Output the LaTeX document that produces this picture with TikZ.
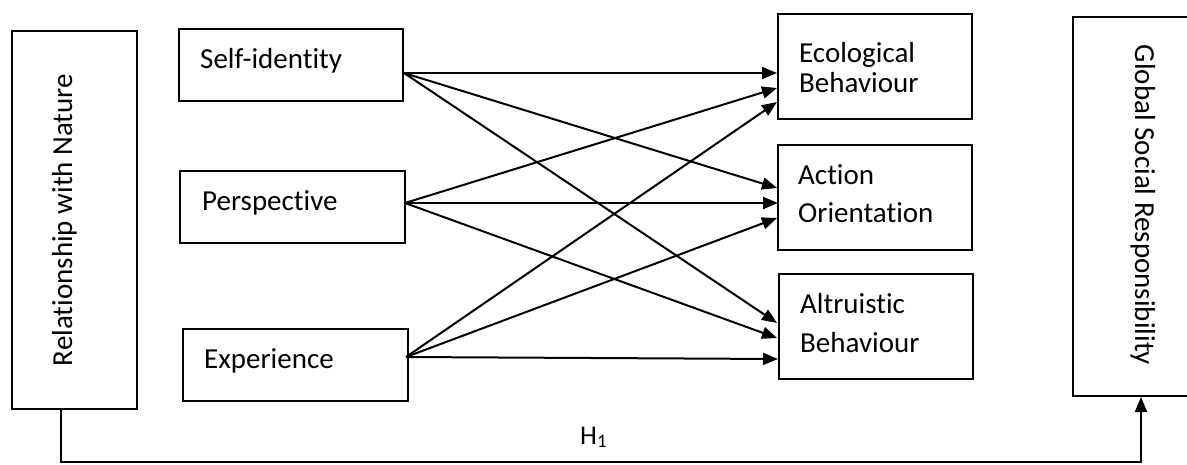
\documentclass[tikz,border=0pt]{standalone}
\usepackage{fontspec}
\setmainfont{Carlito}[Ligatures={NoCommon}]
\usetikzlibrary{arrows.meta}
\begin{document}
\begin{tikzpicture}[x=1pt,y=-1pt,
  box/.style={draw,line width=2.1pt,rectangle,inner sep=0pt,outer sep=0pt},
  lbl/.style={anchor=base west,inner sep=0pt,font=\fontsize{29}{37}\selectfont},
  vlbl/.style={anchor=base,inner sep=0pt,font=\fontsize{29}{37}\selectfont},
  arr/.style={line width=2pt,-{Triangle[length=15pt,width=12pt]}}]
\useasboundingbox (0,0) rectangle (1187,464);
\clip (0,0) rectangle (1187,464);
% boxes
\node[box,minimum width=125pt,minimum height=378pt] (rn) at (74.5,220) {};
\node[box,minimum width=224pt,minimum height=72pt] (si) at (291,65) {};
\node[box,minimum width=225pt,minimum height=72pt] (pe) at (292.5,207) {};
\node[box,minimum width=225pt,minimum height=72pt] (ex) at (295.5,365) {};
\node[box,minimum width=194pt,minimum height=105pt] (eco) at (875,66.5) {};
\node[box,minimum width=194pt,minimum height=105pt] (act) at (875,197.5) {};
\node[box,minimum width=194pt,minimum height=105pt] (alt) at (876,326.5) {};
\node[box,minimum width=125pt,minimum height=379pt] (gsr) at (1135.5,206.5) {};
% texts
\node[vlbl,rotate=90] (rnt) at (72,220) {Relationship with Nature};
\node[vlbl,rotate=-90] (gsrt) at (1135,205) {Global Social Responsibility};
\node[lbl] (sit) at (200,68) {Self-identity};
\node[lbl] (pet) at (202,210) {Perspective};
\node[lbl] (ext) at (204,368) {Experience};
\node[lbl] (ecot1) at (799,62) {Ecological};
\node[lbl] (ecot2) at (799,92) {Behaviour};
\node[lbl] (actt1) at (798,184) {Action};
\node[lbl] (actt2) at (798,222) {Orientation};
\node[lbl] (altt1) at (800,313) {Altruistic};
\node[lbl] (altt2) at (800,352) {Behaviour};
\node[anchor=base west,inner sep=0pt,font=\fontsize{27}{32}\selectfont] (h1) at (580,444) {H\textsubscript{1}};
% ports
\coordinate (siO) at (404,73);
\coordinate (peO) at (405,203);
\coordinate (exO) at (406,357);
\coordinate (e1) at (777,73);
\coordinate (e2) at (777,88);
\coordinate (e3) at (777,102);
\coordinate (a1) at (777,188);
\coordinate (a2) at (778,203);
\coordinate (a3) at (777,218);
\coordinate (l1) at (777,323);
\coordinate (l2) at (777,338);
\coordinate (l3) at (778,359);
\coordinate (rnO) at (61,409);
\coordinate (gsrI) at (1141,397);
% connectors
\draw[arr] (siO) -- (e1);
\draw[arr] (siO) -- (a1);
\draw[arr] (siO) -- (l1);
\draw[arr] (peO) -- (e2);
\draw[arr] (peO) -- (a2);
\draw[arr] (peO) -- (l2);
\draw[arr] (exO) -- (e3);
\draw[arr] (exO) -- (a3);
\draw[arr] (exO) -- (l3);
\draw[arr] (rnO) -- ++(0,53) -| (gsrI);
\end{tikzpicture}
\end{document}
